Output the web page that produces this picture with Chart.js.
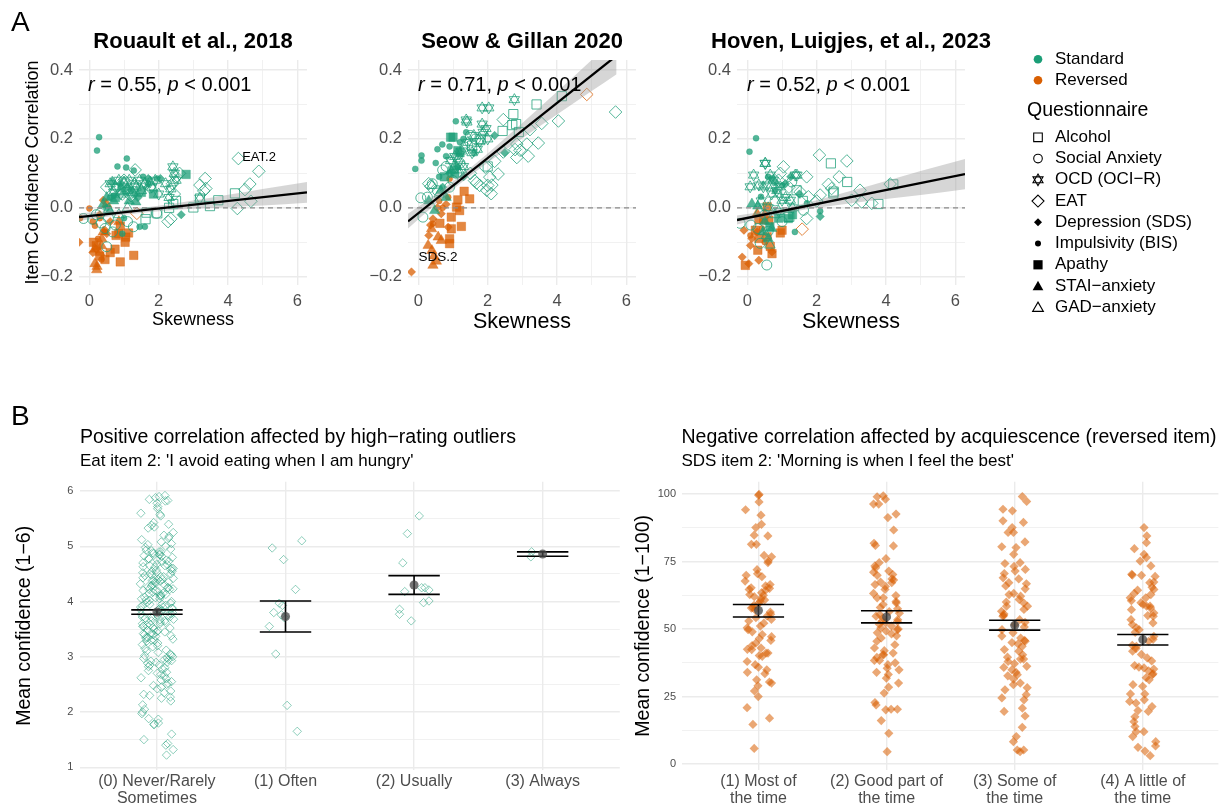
<!DOCTYPE html>
<html>
<head>
<meta charset="utf-8">
<script src="https://cdn.jsdelivr.net/npm/chart.js@4.4.0/dist/chart.umd.min.js"></script>
<style>
  html, body { margin: 0; padding: 0; background: #ffffff; }
  #fig { position: relative; width: 1223px; height: 806px; overflow: hidden; background: #fff; }
  #fig canvas { position: absolute; }
</style>
</head>
<body>
<div id="fig">
  <canvas id="a1" width="330" height="345" style="left:0px;top:0px;width:330px;height:345px"></canvas>
  <canvas id="a2" width="330" height="345" style="left:330px;top:0px;width:330px;height:345px"></canvas>
  <canvas id="a3" width="563" height="345" style="left:660px;top:0px;width:563px;height:345px"></canvas>
  <canvas id="b1" width="625" height="426" style="left:0px;top:380px;width:625px;height:426px"></canvas>
  <canvas id="b2" width="598" height="426" style="left:625px;top:380px;width:598px;height:426px"></canvas>
</div>
<script>
// ---------------------------------------------------------------------------
// Panel A: item skewness (x) vs. item–confidence correlation (y), per study.
// Each array holds [skewness, correlation] pairs for one questionnaire.
// ---------------------------------------------------------------------------

// Rouault et al., 2018 — standard-keyed items
const rouAlcohol = [[1.62,-0.033],[1.65,-0.014],[1.96,-0.016],[2.42,0.011],[3.0,0.001],[3.19,0.027],[3.48,0.005],[3.72,0.022],[4.2,0.042],[2.3,0.0],[2.5,0.02]];
const rouSocial  = [[-0.17,-0.031],[0.09,-0.033],[0.31,-0.016],[0.34,-0.044],[0.5,-0.113],[0.67,-0.07],[1.27,-0.055],[1.94,-0.016],[0.2,-0.02],[0.55,-0.03],[0.75,-0.05],[1.1,-0.04],[0.45,-0.06]];
const rouOcd     = [[0.6,0.07],[0.75,0.06],[0.85,0.08],[1.0,0.075],[1.15,0.08],[1.3,0.07],[1.45,0.08],[1.6,0.07],[1.75,0.075],[1.9,0.08],[2.41,0.119],[2.45,0.1],[1.1,0.05],[1.25,0.045],[1.5,0.05],[2.2,0.07],[2.5,0.08],[0.9,0.04],[1.8,0.06],[2.0,0.04],[2.3,0.03],[3.19,0.028],[0.7,0.045],[1.35,0.06],[2.35,0.055]];
const rouEat     = [[4.3,0.143],[4.89,0.106],[4.63,0.069],[4.49,0.053],[4.66,0.019],[4.27,-0.002],[3.34,0.085],[3.19,0.066],[3.36,0.056],[3.3,0.049],[2.27,-0.04],[2.35,-0.032],[1.32,0.11],[2.4,0.07],[2.5,0.09],[2.6,0.1],[1.2,0.035],[1.75,0.06],[2.45,0.04],[1.0,0.08],[0.5,0.06],[0.95,0.04]];
const rouSds     = [[2.65,-0.02],[2.05,0.085],[1.1,0.06],[0.9,0.07],[1.4,0.03],[1.7,0.085],[0.5,0.0]];
const rouBis     = [[0.28,0.205],[0.22,0.166],[1.08,0.143],[0.81,0.12],[1.06,0.117],[1.28,0.108],[0.9,0.06],[1.2,0.05],[0.7,0.035],[1.55,0.09],[1.95,0.085],[1.6,-0.055],[1.45,-0.055],[1.0,-0.03],[0.95,-0.075],[0.6,0.03],[1.7,0.07],[1.3,0.04]];
const rouApathy  = [[2.79,0.097],[1.5,0.045],[0.75,0.03],[1.85,0.04]];
const rouStai    = [[1.34,0.017],[0.66,0.075],[0.5,0.03],[0.7,0.02],[1.0,0.045],[0.6,-0.01],[0.4,0.01],[1.15,0.02]];
const rouGad     = [[0.55,-0.005],[0.85,-0.02],[1.1,0.0]];
// Rouault et al., 2018 — reverse-keyed items
const rouRevBis    = [[0.0,-0.002],[-0.27,-0.03],[0.16,-0.052],[0.3,-0.03],[0.45,-0.07],[0.25,-0.09],[0.35,-0.15],[0.1,-0.04]];
const rouRevSds    = [[-0.3,-0.1],[0.45,-0.065],[0.4,0.022],[0.3,-0.02],[0.6,-0.04],[0.2,-0.12],[0.5,-0.075],[0.1,-0.13]];
const rouRevApathy = [[0.89,-0.053],[1.13,-0.073],[0.77,-0.08],[0.74,-0.12],[1.03,-0.1],[1.28,-0.138],[0.89,-0.157],[0.45,-0.15],[0.12,-0.1],[0.2,-0.11],[0.85,-0.075],[1.05,-0.085],[0.6,-0.13],[0.3,-0.14]];
const rouRevStai   = [[0.16,-0.162],[0.21,-0.18],[0.36,-0.09],[0.3,-0.13],[0.15,-0.12],[0.4,-0.07],[0.5,0.01],[0.35,-0.11],[0.85,-0.04],[0.22,-0.17]];
const rouRevEat    = [[1.37,-0.016]];

// Seow & Gillan 2020 — standard-keyed items
const seoAlcohol = [[3.41,0.3],[4.14,0.324],[2.74,0.272],[2.82,0.243],[2.43,0.223],[2.71,0.24],[1.8,0.2],[1.55,0.18],[2.9,0.22],[2.0,0.12]];
const seoSocial  = [[0.07,0.029],[0.26,0.031],[0.13,-0.027],[0.55,0.05],[1.0,0.079],[1.34,0.176],[1.5,0.21],[0.8,0.12],[1.2,0.13],[0.7,0.11],[1.65,0.2],[0.4,0.07],[0.9,0.06],[1.1,0.1]];
const seoOcd     = [[1.84,0.29],[2.03,0.29],[1.38,0.255],[1.84,0.243],[1.87,0.219],[1.77,0.192],[1.43,0.19],[1.05,0.149],[1.14,0.142],[0.93,0.137],[2.77,0.314],[1.4,0.249],[1.6,0.21],[1.25,0.165],[1.7,0.17],[1.95,0.23],[1.3,0.12],[1.0,0.11],[2.0,0.2],[1.55,0.16]];
const seoEat     = [[4.04,0.252],[3.56,0.245],[3.22,0.227],[5.69,0.278],[3.46,0.188],[3.13,0.185],[2.84,0.185],[2.84,0.146],[3.17,0.15],[2.93,0.167],[2.45,0.256],[1.77,0.065],[2.0,0.065],[1.62,0.079],[2.06,0.089],[2.3,0.098],[1.93,0.118],[2.1,0.041],[0.36,0.062],[1.68,0.072],[1.97,0.051],[2.12,0.066],[2.45,0.162],[2.79,0.169],[2.2,0.135],[0.3,0.07],[1.5,0.1]];
const seoSds     = [[2.49,0.16],[1.3,0.09],[0.9,0.1],[1.6,0.16],[2.2,0.21],[0.7,0.06]];
const seoBis     = [[0.09,0.152],[0.09,0.137],[-0.09,0.113],[0.69,0.184],[1.08,0.251],[0.9,0.178],[1.38,0.219],[1.14,0.118],[0.5,0.13],[0.6,0.09],[1.3,0.2],[0.8,0.15],[1.2,0.19],[0.55,0.17]];
const seoApathy  = [[0.93,0.205],[1.14,0.166],[1.0,0.205],[1.2,0.16],[0.75,0.09],[1.05,0.1]];
const seoStai    = [[0.95,0.108],[0.47,-0.008],[0.65,0.05],[0.8,0.03],[1.1,0.12],[0.3,0.02]];
const seoGad     = [[0.4,0.065],[0.6,0.04],[1.25,0.11]];
// Seow & Gillan 2020 — reverse-keyed items
const seoRevApathy = [[1.32,0.048],[1.48,0.026],[1.14,0.023],[1.19,-0.008],[0.95,-0.027],[0.95,-0.061],[0.62,-0.045],[0.9,-0.09],[0.9,-0.104],[1.24,-0.054],[1.1,0.002]];
const seoRevStai   = [[0.28,-0.109],[0.39,-0.124],[0.57,-0.085],[0.42,-0.167],[0.52,-0.155],[0.38,-0.061],[0.66,-0.095],[0.45,-0.14]];
const seoRevSds    = [[-0.2,-0.186],[0.42,-0.032],[0.35,-0.05],[0.86,-0.056],[0.66,-0.017],[0.8,0.01],[0.55,0.0],[0.3,-0.08]];
const seoRevBis    = [[0.9,0.084],[0.86,0.031],[0.42,-0.046],[0.7,0.0],[0.6,0.02]];
const seoRevEat    = [[4.86,0.329]];

// Hoven, Luigjes, et al., 2023 — standard-keyed items
const hovAlcohol = [[2.41,0.129],[2.88,0.075],[1.42,0.051],[2.48,0.042],[3.78,0.011],[4.21,0.068],[1.18,-0.026],[2.49,0.047],[1.21,-0.026],[1.6,0.02]];
const hovSocial  = [[1.28,0.075],[-0.21,-0.045],[0.6,-0.068],[0.56,-0.166],[1.62,-0.007],[0.37,-0.103],[0.1,-0.05],[0.8,0.02],[0.5,-0.02],[1.0,-0.04],[0.3,-0.06]];
const hovOcd     = [[0.52,0.129],[0.18,0.095],[0.33,0.066],[0.66,0.095],[0.57,0.066],[0.75,0.08],[1.43,0.095],[1.0,0.022],[1.24,0.022],[0.95,0.061],[0.51,0.129],[0.08,0.061],[0.46,0.061],[1.38,0.095],[0.7,0.04],[0.85,0.05],[1.1,0.03],[0.4,0.02],[0.6,0.0],[0.9,-0.01],[1.3,0.0]];
const hovEat     = [[2.08,0.153],[2.87,0.136],[2.65,0.09],[2.34,0.068],[2.43,0.056],[1.71,0.09],[1.52,0.046],[1.76,0.032],[2.1,0.037],[3.25,0.051],[3.01,0.022],[3.3,0.017],[3.59,0.013],[4.12,0.069],[1.71,-0.031],[1.04,0.119],[0.95,0.1],[1.2,0.06],[0.9,0.08],[2.0,0.02]];
const hovSds     = [[1.5,0.04],[2.1,-0.025],[0.8,0.075],[1.1,0.07],[1.25,0.09]];
const hovBis     = [[0.25,0.202],[0.06,0.163],[0.39,0.032],[1.37,-0.07],[2.1,-0.01],[1.72,0.013],[0.8,0.05],[1.0,0.065],[0.6,0.09],[0.7,0.085]];
const hovApathy  = [[0.65,-0.055],[1.18,-0.031],[0.9,-0.03],[1.3,-0.02]];
const hovStai    = [[0.13,0.011],[0.3,0.005],[0.5,-0.04],[0.7,-0.06],[0.6,-0.09],[0.45,-0.07]];
const hovGad     = [[0.65,-0.108],[0.35,-0.01],[0.8,-0.02],[0.55,-0.08]];
// Hoven, Luigjes, et al., 2023 — reverse-keyed items
const hovRevApathy = [[0.57,0.003],[0.47,-0.034],[0.33,-0.034],[0.62,-0.036],[1.0,-0.065],[0.95,-0.073],[0.33,-0.089],[0.57,-0.084],[0.66,-0.112],[0.71,-0.133],[-0.06,-0.167],[0.3,-0.123],[0.23,-0.065]];
const hovRevSds    = [[-0.15,-0.143],[0.04,-0.162],[0.33,-0.152],[0.087,-0.109],[0.13,-0.089],[0.28,-0.07],[-0.1,-0.065],[0.71,-0.128]];
const hovRevBis    = [[0.42,-0.06],[0.09,-0.08],[0.5,-0.1]];
const hovRevStai   = [[0.28,-0.017],[0.5,-0.02]];
const hovRevEat    = [[1.58,-0.062]];

// Linear fits (intercept, slope) per study and their 95% confidence bands
const fitIntercepts = [-0.0237, -0.0153, -0.0294];
const fitSlopes     = [0.0109, 0.0799, 0.0203];
const rouBandX    = [-0.3, 0.5, 1.2, 2, 3, 4, 5, 6.28];
const rouBandLow  = [-0.038, -0.026, -0.0176, -0.0099, -0.003, 0.0019, 0.0068, 0.0146];
const rouBandHigh = [-0.016, -0.010, -0.0036, 0.0061, 0.021, 0.0379, 0.0548, 0.0748];
const seoBandX    = [-0.3, 0.5, 1.2, 2, 3, 4, 5, 5.72];
const seoBandLow  = [-0.060, 0.011, 0.070, 0.131, 0.202, 0.271, 0.339, 0.388];
const seoBandHigh = [-0.017, 0.039, 0.092, 0.158, 0.246, 0.337, 0.429, 0.496];
const hovBandX    = [-0.3, 0.5, 1, 2, 3, 4, 5, 6.28];
const hovBandLow  = [-0.0485, -0.0283, -0.0171, 0.0002, 0.0135, 0.0258, 0.0371, 0.0537];
const hovBandHigh = [-0.0225, -0.0103, -0.0011, 0.0222, 0.0495, 0.0778, 0.1071, 0.1417];
const corrLabels  = [['0.55', '0.001'], ['0.71', '0.001'], ['0.52', '0.001']];
const studyTitles = ['Rouault et al., 2018', 'Seow & Gillan 2020', 'Hoven, Luigjes, et al., 2023'];

// Legend entries
const directionLabels     = ['Standard', 'Reversed'];
const questionnaireKeys   = ['alcohol', 'social', 'ocd', 'eat', 'sds', 'bis', 'apathy', 'stai', 'gad'];
const questionnaireLabels = ['Alcohol', 'Social Anxiety', 'OCD (OCI\u2212R)', 'EAT', 'Depression (SDS)', 'Impulsivity (BIS)', 'Apathy', 'STAI\u2212anxiety', 'GAD\u2212anxiety'];

// ---------------------------------------------------------------------------
// Panel B: per-participant mean confidence by response option for two items
// ---------------------------------------------------------------------------
const eatCategories = [['(0) Never/Rarely', 'Sometimes'], ['(1) Often'], ['(2) Usually'], ['(3) Always']];
const eatNever   = [5.92,5.9,5.88,5.85,5.83,5.82,5.78,5.72,5.68,5.6,5.58,5.55,5.43,5.4,5.38,5.35,5.33,5.25,5.2,5.18,5.15,5.12,5.08,5.05,5.03,5.0,
  4.98,4.95,4.93,4.92,4.9,4.88,4.87,4.85,4.83,4.82,4.8,4.78,4.77,4.75,4.73,4.72,4.7,4.68,4.67,4.65,4.63,4.62,4.6,4.58,4.57,4.55,4.53,4.52,4.5,4.5,4.48,4.9,4.85,4.75,4.65,4.6,4.55,
  4.47,4.45,4.43,4.42,4.4,4.38,4.37,4.35,4.33,4.32,4.3,4.28,4.27,4.25,4.23,4.22,4.2,4.18,4.17,4.15,4.13,4.12,4.1,4.08,4.07,4.05,4.03,4.02,4.0,4.45,4.4,4.35,4.3,4.25,4.2,4.15,4.1,4.05,4.38,4.22,
  3.98,3.97,3.95,3.93,3.92,3.9,3.88,3.87,3.85,3.83,3.82,3.8,3.78,3.77,3.75,3.73,3.72,3.7,3.68,3.67,3.65,3.63,3.62,3.6,3.58,3.57,3.55,3.53,3.52,3.5,3.95,3.9,3.85,3.8,3.75,3.7,3.65,3.6,3.55,3.88,3.72,
  3.48,3.47,3.45,3.43,3.42,3.4,3.38,3.37,3.35,3.33,3.32,3.3,3.28,3.25,3.22,3.2,3.18,3.15,3.12,3.1,3.08,3.05,3.03,3.02,3.0,3.45,3.4,3.35,3.3,
  2.98,2.97,2.95,2.93,2.92,2.9,2.88,2.85,2.82,2.8,2.78,2.75,2.72,2.7,2.68,2.65,2.62,2.6,2.58,2.55,2.52,2.5,2.95,2.9,2.85,
  2.48,2.45,2.42,2.38,2.35,2.32,2.3,2.27,2.25,2.2,2.13,2.05,2.0,
  1.97,1.88,1.87,1.8,1.78,1.77,1.6,1.5,1.43,1.4,1.32,1.22];
const eatOften   = [5.1,4.97,4.76,4.22,3.93,3.97,3.8,3.76,3.71,3.55,3.05,2.12,1.65];
const eatUsually = [5.55,5.23,4.7,4.21,4.25,4.18,3.98,4.01,3.86,3.65,3.77,4.25];
const eatAlways  = [4.81,4.9];
const eatMean  = [3.81, 3.73, 4.30, 4.86];
const eatLower = [3.77, 3.45, 4.13, 4.82];
const eatUpper = [3.85, 4.01, 4.47, 4.90];

const sdsCategories = [['(1) Most of', 'the time'], ['(2) Good part of', 'the time'], ['(3) Some of', 'the time'], ['(4) A little of', 'the time']];
const sdsMost   = [99.6,99.9,97.1,94.2,92.2,88.8,87.6,84.5,84.8,81.4,81.4,76.8,77.3,75.2,74.6,69.9,69.4,66.5,65.3,64.4,64.7,65.1,62.8,62.0,60.3,57.2,54.2,51.1,49.8,48.0,45.8,42.4,43.9,41.1,41.1,39.9,38.0,35.9,34.9,33.5,34.0,31.2,30.0,30.4,29.0,27.1,25.0,20.9,17.0,14.7,5.8,
  63.5,61.2,59.5,58.0,56.3,55.5,53.0,52.2,50.5,47.2,46.5,44.8,43.0,72.0,70.5,67.8,60.8,58.8,57.8,54.8,53.6,49.0,42.5,40.2,36.8,62.5,66.0];
const sdsGood   = [99.0,99.4,98.1,96.3,96.3,91.3,92.6,86.7,81.8,81.0,80.8,76.1,74.6,72.7,73.4,71.1,71.5,69.9,68.2,68.6,67.4,66.5,67.2,64.7,63.2,61.6,61.6,59.7,59.1,55.4,54.8,53.5,52.3,51.1,49.8,48.6,46.7,44.2,41.1,40.5,40.5,38.4,38.4,36.8,34.9,34.0,31.8,30.0,26.3,22.8,21.9,20.3,20.3,20.1,16.1,11.4,4.6,
  62.4,60.2,58.0,56.5,55.9,54.1,53.0,52.8,51.8,50.4,50.0,49.3,48.2,47.5,45.5,43.0,42.0,39.5,37.5,35.5,33.2,28.5,65.8,70.2,57.5];
const sdsSome   = [99.1,97.3,94.4,93.8,90.1,89.5,87.6,85.8,85.8,82.3,80.2,80.5,77.7,74.6,74.3,72.1,70.6,68.6,67.2,64.9,63.2,62.8,62.2,59.7,58.5,58.5,56.6,54.8,53.5,51.7,49.8,46.7,45.8,45.5,43.6,42.4,40.5,38.9,38.9,38.0,36.2,34.9,34.0,33.1,32.7,30.0,29.4,27.5,25.7,23.8,20.7,19.5,17.8,13.6,10.2,8.3,4.6,5.2,5.2,
  73.2,71.5,69.0,66.0,61.0,60.0,57.3,55.6,52.5,50.8,48.6,47.4,44.5,41.8,39.6,37.2,35.8,31.5,28.3,24.5,66.8,55.0,45.0];
const sdsLittle = [87.6,84.5,82.0,77.7,79.8,76.5,75.2,73.4,70.3,69.9,67.4,67.2,64.4,64.7,63.2,61.6,61.6,59.1,58.5,58.5,55.0,54.8,52.3,51.7,49.8,47.3,45.5,43.6,41.8,39.3,35.9,35.6,35.2,33.1,33.5,31.2,29.4,26.0,26.0,23.8,23.2,22.6,21.3,19.5,19.8,15.7,13.9,12.0,12.0,10.2,8.3,6.7,6.2,4.8,3.1,
  70.0,69.5,65.5,62.8,60.5,57.2,56.0,53.5,50.5,48.8,46.2,44.0,42.8,40.6,38.2,36.5,34.5,32.0,28.8,17.5,57.8,59.8];
const sdsMean  = [56.9, 54.5, 51.4, 46.1];
const sdsLower = [54.5, 52.3, 49.6, 44.1];
const sdsUpper = [59.1, 56.8, 53.3, 48.0];

// ---------------------------------------------------------------------------
// Styling and helpers
// ---------------------------------------------------------------------------
const FONT = "'Liberation Sans', Arial, Helvetica, sans-serif";
const TEAL = '27,158,119';
const ORANGE = '217,95,2';
const GRID = '#ebebeb';
const TICK = '#4d4d4d';
const X_MIN = -0.3, X_MAX = 6.28, Y_MIN = -0.224, Y_MAX = 0.429;

Chart.defaults.font.family = FONT;

const SHAPES = {
  alcohol: { style: 'rect',     r: 6.5, fill: false },
  social:  { style: 'circle',   r: 5,   fill: false },
  ocd:     { style: 'triangle', r: 6,   fill: false, star: true },
  eat:     { style: 'rectRot',  r: 6.3, fill: false },
  sds:     { style: 'rectRot',  r: 4.2, fill: true },
  bis:     { style: 'circle',   r: 3,   fill: true },
  apathy:  { style: 'rect',     r: 6,   fill: true },
  stai:    { style: 'triangle', r: 6,   fill: true },
  gad:     { style: 'triangle', r: 6,   fill: false }
};

// one scatter dataset per questionnaire / keying direction
function pointSets(groups) {
  const out = [];
  for (const [pairs, key, rgb] of groups) {
    const s = SHAPES[key];
    const col = `rgba(${rgb},0.75)`;
    const base = {
      type: 'scatter',
      data: pairs.map(([x, y]) => ({ x, y })),
      pointStyle: s.style,
      pointRadius: s.r,
      pointBorderWidth: s.fill ? 0.5 : 1,
      pointBorderColor: col,
      pointBackgroundColor: s.fill ? col : 'rgba(0,0,0,0)',
      order: 10
    };
    out.push(base);
    if (s.star) out.push(Object.assign({}, base, { pointRotation: 180 }));
  }
  return out;
}

// deterministic horizontal spread for the jittered strips
function spread(n) {
  const s = Math.sin(n * 12.9898 + 78.233) * 43758.5453;
  return (s - Math.floor(s)) * 2 - 1;
}

// text drawn onto the canvas (titles, panel tags, annotations)
const panelTextPlugin = {
  id: 'panelText',
  afterDraw(chart, args, opts) {
    const items = opts && opts.items;
    if (!items) return;
    const ctx = chart.ctx;
    for (const it of items) {
      ctx.save();
      ctx.fillStyle = it.color || '#000';
      ctx.textBaseline = 'middle';
      ctx.textAlign = 'left';
      const runs = it.runs || [{ t: it.text }];
      const fontOf = r => `${r.italic ? 'italic ' : ''}${it.weight || 'normal'} ${it.size}px ${FONT}`;
      let total = 0;
      for (const r of runs) { ctx.font = fontOf(r); total += ctx.measureText(r.t).width; }
      let x = it.x;
      if (it.align === 'center') x -= total / 2;
      else if (it.align === 'right') x -= total;
      for (const r of runs) {
        ctx.font = fontOf(r);
        ctx.fillText(r.t, x, it.y);
        x += ctx.measureText(r.t).width;
      }
      ctx.restore();
    }
  }
};

// legend symbols
function triPath(ctx, x, y, r, rot) {
  for (let k = 0; k < 3; k++) {
    const a = rot + k * 2 * Math.PI / 3;
    const px = x + r * Math.sin(a), py = y - r * Math.cos(a);
    if (k) ctx.lineTo(px, py); else ctx.moveTo(px, py);
  }
  ctx.closePath();
}
function diamondPath(ctx, x, y, r) {
  ctx.moveTo(x, y - r); ctx.lineTo(x + r, y); ctx.lineTo(x, y + r); ctx.lineTo(x - r, y); ctx.closePath();
}
function drawKeySymbol(ctx, key, x, y) {
  ctx.save();
  ctx.strokeStyle = '#000'; ctx.fillStyle = '#000'; ctx.lineWidth = 1.1;
  ctx.beginPath();
  switch (key) {
    case 'alcohol': ctx.rect(x - 4.3, y - 4.3, 8.6, 8.6); ctx.stroke(); break;
    case 'social':  ctx.arc(x, y, 4.3, 0, 2 * Math.PI); ctx.stroke(); break;
    case 'ocd':     triPath(ctx, x, y, 5.8, 0); triPath(ctx, x, y, 5.8, Math.PI); ctx.stroke(); break;
    case 'eat':     diamondPath(ctx, x, y, 6); ctx.stroke(); break;
    case 'sds':     diamondPath(ctx, x, y, 4); ctx.fill(); break;
    case 'bis':     ctx.arc(x, y, 3, 0, 2 * Math.PI); ctx.fill(); break;
    case 'apathy':  ctx.rect(x - 4.6, y - 4.6, 9.2, 9.2); ctx.fill(); break;
    case 'stai':    triPath(ctx, x, y + 1, 6.2, 0); ctx.fill(); break;
    case 'gad':     triPath(ctx, x, y + 1, 6.2, 0); ctx.stroke(); break;
  }
  ctx.restore();
}
const shapeKeyPlugin = {
  id: 'shapeKey',
  afterDraw(chart, args, opts) {
    if (!opts || !opts.show) return;
    const ctx = chart.ctx;
    const sx = opts.x, tx = opts.textX;
    ctx.save();
    ctx.textBaseline = 'middle'; ctx.textAlign = 'left'; ctx.fillStyle = '#000';
    ctx.font = `17px ${FONT}`;
    [TEAL, ORANGE].forEach((rgb, i) => {
      const y = opts.dirY[i];
      ctx.beginPath(); ctx.fillStyle = `rgb(${rgb})`; ctx.arc(sx, y, 4.3, 0, 2 * Math.PI); ctx.fill();
      ctx.fillStyle = '#000'; ctx.fillText(directionLabels[i], tx, y);
    });
    ctx.font = `19.5px ${FONT}`;
    ctx.fillText('Questionnaire', opts.headX, opts.headY);
    ctx.font = `17px ${FONT}`;
    questionnaireKeys.forEach((k, i) => {
      const y = opts.itemY0 + i * opts.itemStep;
      drawKeySymbol(ctx, k, sx, y);
      ctx.fillStyle = '#000';
      ctx.fillText(questionnaireLabels[i], tx, y);
    });
    ctx.restore();
  }
};

// mean ± SE error bars, drawn right after the jittered points
const errorBarPlugin = {
  id: 'errorBars',
  afterDatasetDraw(chart, args, opts) {
    if (!opts || !opts.lower || args.index !== 0) return;
    const { ctx, scales: { x, y } } = chart;
    ctx.save();
    ctx.strokeStyle = '#000';
    ctx.lineWidth = 1.6;
    opts.lower.forEach((lo, i) => {
      const hi = opts.upper[i];
      const xl = x.getPixelForValue(i - opts.half), xr = x.getPixelForValue(i + opts.half), xc = x.getPixelForValue(i);
      const yl = y.getPixelForValue(lo), yh = y.getPixelForValue(hi);
      ctx.beginPath();
      ctx.moveTo(xl, yh); ctx.lineTo(xr, yh);
      ctx.moveTo(xl, yl); ctx.lineTo(xr, yl);
      ctx.moveTo(xc, yl); ctx.lineTo(xc, yh);
      ctx.stroke();
    });
    ctx.restore();
  }
};

// ---------------------------------------------------------------------------
// Panel A charts
// ---------------------------------------------------------------------------
function corrRuns(k) {
  return [{ t: 'r', italic: true }, { t: ' = ' + corrLabels[k][0] + ', ' }, { t: 'p', italic: true }, { t: ' < ' + corrLabels[k][1] }];
}

function scatterChart(id, k, cfg) {
  const a = fitIntercepts[k], b = fitSlopes[k];
  const datasets = [
    ...pointSets(cfg.groups),
    { type: 'line', data: [{ x: X_MIN, y: 0 }, { x: X_MAX, y: 0 }], borderColor: '#8a8a8a', borderWidth: 1.3,
      borderDash: [5, 4], pointRadius: 0, fill: false, order: 6 },
    { type: 'line', data: cfg.bandX.map((x, i) => ({ x, y: cfg.bandHigh[i] })), borderWidth: 0, pointRadius: 0,
      fill: '+1', backgroundColor: 'rgba(153,153,153,0.4)', cubicInterpolationMode: 'monotone', order: 3 },
    { type: 'line', data: cfg.bandX.map((x, i) => ({ x, y: cfg.bandLow[i] })), borderWidth: 0, pointRadius: 0,
      fill: false, cubicInterpolationMode: 'monotone', order: 3 },
    { type: 'line', data: [{ x: X_MIN, y: a + b * X_MIN }, { x: X_MAX, y: a + b * X_MAX }], borderColor: '#000',
      borderWidth: 2.3, pointRadius: 0, fill: false, order: 1 }
  ];
  return new Chart(document.getElementById(id), {
    type: 'scatter',
    data: { datasets },
    plugins: [panelTextPlugin, shapeKeyPlugin],
    options: {
      responsive: false, animation: false, events: [],
      layout: { padding: { left: 0, top: 60, right: cfg.padRight, bottom: 0 } },
      plugins: {
        legend: { display: false }, tooltip: { enabled: false },
        panelText: { items: cfg.text },
        shapeKey: cfg.key || { show: false }
      },
      scales: {
        x: {
          type: 'linear', min: X_MIN, max: X_MAX,
          afterFit: s => { s.height = 60; },
          border: { display: false },
          grid: { color: GRID, drawTicks: false,
            lineWidth: c => (c.tick && Math.round(c.tick.value) % 2 === 0) ? 1.4 : 0.7 },
          ticks: { stepSize: 1, includeBounds: false, autoSkip: false, maxRotation: 0, padding: 7, color: TICK,
            font: { size: 16.5, lineHeight: 1.2 },
            callback: v => Math.round(v) % 2 === 0 ? String(Math.round(v)) : '' },
          title: { display: true, text: 'Skewness', color: '#000',
            font: { size: cfg.xTitleSize, lineHeight: 1.2 }, padding: { top: 0, bottom: cfg.xTitlePad } }
        },
        y: {
          type: 'linear', min: Y_MIN, max: Y_MAX,
          afterFit: s => { s.width = cfg.left; },
          border: { display: false },
          grid: { color: GRID, drawTicks: false,
            lineWidth: c => (c.tick && Math.round(c.tick.value * 10) % 2 === 0) ? 1.4 : 0.7 },
          ticks: { stepSize: 0.1, includeBounds: false, autoSkip: false, padding: 6, color: TICK,
            font: { size: 16.5 },
            callback: v => { const t = Math.round(v * 10); return t % 2 === 0 ? (t / 10).toFixed(1).replace('-', '\u2212') : ''; } },
          title: cfg.yTitle
            ? { display: true, text: cfg.yTitle, color: '#000', font: { size: 18, lineHeight: 1.2 }, padding: { top: 22.2, bottom: 0 } }
            : { display: false }
        }
      }
    }
  });
}

scatterChart('a1', 0, {
  groups: [[rouAlcohol, 'alcohol', TEAL], [rouSocial, 'social', TEAL], [rouOcd, 'ocd', TEAL], [rouEat, 'eat', TEAL],
    [rouSds, 'sds', TEAL], [rouBis, 'bis', TEAL], [rouApathy, 'apathy', TEAL], [rouStai, 'stai', TEAL], [rouGad, 'gad', TEAL],
    [rouRevBis, 'bis', ORANGE], [rouRevSds, 'sds', ORANGE], [rouRevApathy, 'apathy', ORANGE], [rouRevStai, 'stai', ORANGE], [rouRevEat, 'eat', ORANGE]],
  bandX: rouBandX, bandLow: rouBandLow, bandHigh: rouBandHigh,
  left: 79, padRight: 23, xTitleSize: 18, xTitlePad: 14.2, yTitle: 'Item Confidence Correlation',
  text: [
    { text: 'A', x: 11, y: 23, size: 28 },
    { text: studyTitles[0], x: 193, y: 42, size: 22, weight: 'bold', align: 'center' },
    { runs: corrRuns(0), x: 88, y: 85, size: 20 },
    { text: 'EAT.2', x: 259, y: 157, size: 13, align: 'center' }
  ]
});

scatterChart('a2', 1, {
  groups: [[seoAlcohol, 'alcohol', TEAL], [seoSocial, 'social', TEAL], [seoOcd, 'ocd', TEAL], [seoEat, 'eat', TEAL],
    [seoSds, 'sds', TEAL], [seoBis, 'bis', TEAL], [seoApathy, 'apathy', TEAL], [seoStai, 'stai', TEAL], [seoGad, 'gad', TEAL],
    [seoRevApathy, 'apathy', ORANGE], [seoRevStai, 'stai', ORANGE], [seoRevSds, 'sds', ORANGE], [seoRevBis, 'bis', ORANGE], [seoRevEat, 'eat', ORANGE]],
  bandX: seoBandX, bandLow: seoBandLow, bandHigh: seoBandHigh,
  left: 78, padRight: 24, xTitleSize: 21.5, xTitlePad: 10.1,
  text: [
    { text: studyTitles[1], x: 192, y: 42, size: 22, weight: 'bold', align: 'center' },
    { runs: corrRuns(1), x: 88, y: 85, size: 20 },
    { text: 'SDS.2', x: 108, y: 257, size: 13.5, align: 'center' }
  ]
});

scatterChart('a3', 2, {
  groups: [[hovAlcohol, 'alcohol', TEAL], [hovSocial, 'social', TEAL], [hovOcd, 'ocd', TEAL], [hovEat, 'eat', TEAL],
    [hovSds, 'sds', TEAL], [hovBis, 'bis', TEAL], [hovApathy, 'apathy', TEAL], [hovStai, 'stai', TEAL], [hovGad, 'gad', TEAL],
    [hovRevApathy, 'apathy', ORANGE], [hovRevSds, 'sds', ORANGE], [hovRevBis, 'bis', ORANGE], [hovRevStai, 'stai', ORANGE], [hovRevEat, 'eat', ORANGE]],
  bandX: hovBandX, bandLow: hovBandLow, bandHigh: hovBandHigh,
  left: 77, padRight: 258, xTitleSize: 21.5, xTitlePad: 10.1,
  text: [
    { text: studyTitles[2], x: 191, y: 42, size: 22, weight: 'bold', align: 'center' },
    { runs: corrRuns(2), x: 87, y: 85, size: 20 }
  ],
  key: { show: true, x: 378, textX: 395, headX: 367, dirY: [59.3, 80.3], headY: 111, itemY0: 137.3, itemStep: 21.25 }
});

// ---------------------------------------------------------------------------
// Panel B charts
// ---------------------------------------------------------------------------
function jitterChart(id, cfg) {
  const pts = [];
  cfg.groups.forEach((vals, c) => vals.forEach((v, k) => pts.push({ x: c + spread(c * 1000 + k + cfg.seed) * cfg.jitter, y: v })));
  return new Chart(document.getElementById(id), {
    type: 'scatter',
    data: {
      datasets: [
        { data: pts, pointStyle: 'rectRot', pointRadius: cfg.r, pointBorderWidth: cfg.filled ? 0 : 1,
          pointBorderColor: cfg.color, pointBackgroundColor: cfg.filled ? cfg.color : 'rgba(0,0,0,0)', order: 2 },
        { data: cfg.mean.map((m, i) => ({ x: i, y: m })), pointStyle: 'circle', pointRadius: 4.5, pointBorderWidth: 0,
          pointBackgroundColor: 'rgba(70,70,70,0.75)', order: 1 }
      ]
    },
    plugins: [panelTextPlugin, errorBarPlugin],
    options: {
      responsive: false, animation: false, events: [],
      layout: { padding: { left: 0, top: 101.7, right: cfg.padRight, bottom: 0 } },
      plugins: {
        legend: { display: false }, tooltip: { enabled: false },
        panelText: { items: cfg.text },
        errorBars: { lower: cfg.lower, upper: cfg.upper, half: 0.2 }
      },
      scales: {
        x: {
          type: 'linear', min: -0.6, max: cfg.xMax,
          afterFit: s => { s.height = 36; },
          border: { display: false },
          grid: { color: GRID, drawTicks: false, lineWidth: 1.4 },
          ticks: { stepSize: 1, includeBounds: false, autoSkip: false, maxRotation: 0, padding: 3.3, color: TICK,
            font: { size: 16, lineHeight: 1.04 },
            callback: v => cfg.categories[Math.round(v)] || '' }
        },
        y: {
          type: 'linear', min: cfg.yMin, max: cfg.yMax,
          afterFit: s => { s.width = cfg.left; },
          border: { display: false },
          grid: { color: GRID, drawTicks: false,
            lineWidth: c => (c.tick && cfg.isMajor(c.tick.value)) ? 1.4 : 0.7 },
          ticks: { stepSize: cfg.step, includeBounds: false, autoSkip: false, padding: cfg.tickPad, color: TICK,
            font: { size: 11 },
            callback: v => cfg.isMajor(v) ? String(Math.round(v)) : '' },
          title: { display: true, text: cfg.yTitle, color: '#000', font: { size: 19.5, lineHeight: 1.2 },
            padding: { top: cfg.yTitlePad, bottom: 0 } }
        }
      }
    }
  });
}

jitterChart('b1', {
  groups: [eatNever, eatOften, eatUsually, eatAlways], categories: eatCategories,
  mean: eatMean, lower: eatLower, upper: eatUpper,
  color: `rgba(${TEAL},0.5)`, filled: false, r: 4.2, jitter: 0.13, seed: 1,
  yMin: 0.95, yMax: 6.17, step: 0.5, isMajor: v => Math.abs(v - Math.round(v)) < 1e-6,
  left: 79.8, padRight: 3, xMax: 3.6, tickPad: 6.5, yTitle: 'Mean confidence (1\u22126)', yTitlePad: 13.3,
  text: [
    { text: 'B', x: 11, y: 37, size: 28 },
    { text: 'Positive correlation affected by high\u2212rating outliers', x: 80, y: 57.7, size: 19.5 },
    { text: "Eat item 2: 'I avoid eating when I am hungry'", x: 80, y: 81.7, size: 17 }
  ]
});

jitterChart('b2', {
  groups: [sdsMost, sdsGood, sdsSome, sdsLittle], categories: sdsCategories,
  mean: sdsMean, lower: sdsLower, upper: sdsUpper,
  color: `rgba(${ORANGE},0.55)`, filled: true, r: 4.6, jitter: 0.105, seed: 7,
  yMin: -2.2, yMax: 104.6, step: 12.5, isMajor: v => Math.abs(v / 25 - Math.round(v / 25)) < 1e-6,
  left: 56.6, padRight: 0, xMax: 3.59, tickPad: 5.6, yTitle: 'Mean confidence (1\u2212100)', yTitlePad: 7.3,
  text: [
    { text: 'Negative correlation affected by acquiescence (reversed item)', x: 56.5, y: 57.7, size: 19.5 },
    { text: "SDS item 2: 'Morning is when I feel the best'", x: 56.5, y: 81.7, size: 17 }
  ]
});
</script>
</body>
</html>
